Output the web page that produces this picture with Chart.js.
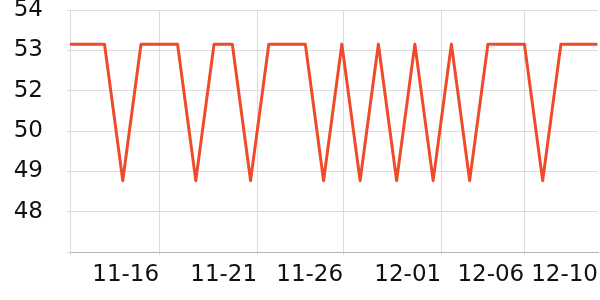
<!DOCTYPE html>
<html>
<head>
<meta charset="utf-8">
<script src="https://cdn.jsdelivr.net/npm/chart.js@4/dist/chart.umd.min.js"></script>
<style>
html,body{margin:0;padding:0;background:#fff;}
#wrap{width:600px;height:300px;}
</style>
</head>
<body>
<div id="wrap"><canvas id="c" width="600" height="300"></canvas></div>
<script>
const dates = ['11-13','11-14','11-15','11-16','11-17','11-18','11-19','11-20','11-21','11-22',
  '11-23','11-24','11-25','11-26','11-27','11-28','11-29','11-30','12-01','12-02',
  '12-03','12-04','12-05','12-06','12-07','12-08','12-09','12-10','12-11','12-12'];
const values = [53.1,53.1,53.1,48.7,53.1,53.1,53.1,48.7,53.1,53.1,
  48.7,53.1,53.1,53.1,48.7,53.1,48.7,53.1,48.7,53.1,
  48.7,53.1,48.7,53.1,53.1,53.1,48.7,53.1,53.1,53.1];
const xTickValues = [0.11, 4.99, 10.36, 15.07, 20.44, 24.99, 29.03];
const xTickLabels = ['', '11-16', '11-21', '11-26', '12-01', '12-06', '12-10'];
const yTickValues = [46.4, 47.7, 49.0, 50.3, 51.6, 52.9, 54.2];

const points = values.map((v, i) => ({x: i, y: v}));
const font = {family: 'DejaVu Sans', size: 23};

new Chart(document.getElementById('c'), {
  type: 'line',
  data: {
    labels: dates,
    datasets: [{
      data: points,
      borderColor: '#ef4b2b',
      borderWidth: 3,
      borderJoinStyle: 'round',
      pointRadius: 0,
      tension: 0,
      fill: false
    }]
  },
  options: {
    responsive: false,
    animation: false,
    devicePixelRatio: 1,
    layout: {padding: {top: 10, right: 2, left: 0, bottom: 0}},
    plugins: {legend: {display: false}, tooltip: {enabled: false}},
    scales: {
      x: {
        type: 'linear',
        min: xTickValues[0],
        max: xTickValues[xTickValues.length - 1],
        afterBuildTicks: s => { s.ticks = xTickValues.map(v => ({value: v})); },
        afterFit: s => { s.height = 48; s.paddingLeft = 0; s.paddingRight = 0; },
        grid: {
          color: ctx => (ctx.index === xTickValues.length - 1 ? 'rgba(0,0,0,0)' : '#dcdcdc'),
          tickLength: 3
        },
        border: {color: '#b4b4b4'},
        ticks: {
          autoSkip: false,
          maxRotation: 0,
          minRotation: 0,
          align: 'end',
          padding: 6,
          color: '#111',
          font: font,
          callback: (v, i) => xTickLabels[i]
        }
      },
      y: {
        type: 'linear',
        min: yTickValues[0],
        max: yTickValues[yTickValues.length - 1],
        afterBuildTicks: s => { s.ticks = yTickValues.map(v => ({value: v})); },
        afterFit: s => { s.width = 70; s.paddingTop = 0; s.paddingBottom = 0; },
        grid: {color: '#dcdcdc', tickLength: 3},
        border: {color: '#dcdcdc'},
        ticks: {
          padding: 24,
          color: '#111',
          font: font,
          callback: (v, i) => (i === 0 ? '' : String(Math.round(v)))
        }
      }
    }
  }
});
</script>
</body>
</html>
